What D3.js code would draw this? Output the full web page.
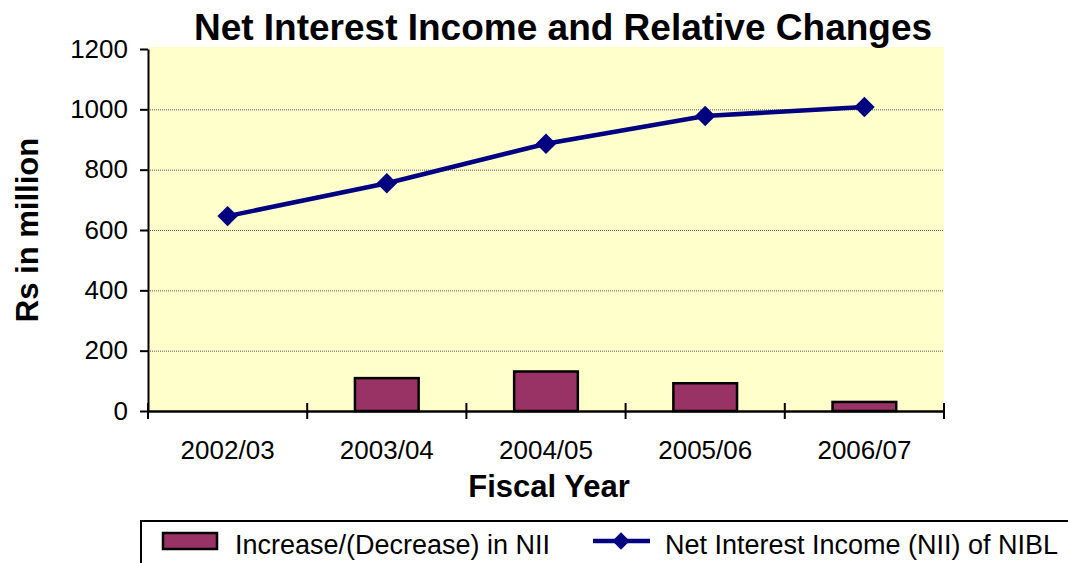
<!DOCTYPE html>
<html>
<head>
<meta charset="utf-8">
<script src="https://cdn.jsdelivr.net/npm/d3@7"></script>
<style>
  html, body { margin: 0; padding: 0; background: #fff; }
  svg { display: block; font-family: "Liberation Sans", Arial, sans-serif; }
</style>
</head>
<body>
<svg id="chart" width="1068" height="563"></svg>
<script>
const categories = ["2002/03", "2003/04", "2004/05", "2005/06", "2006/07"];
const niiValues = [646, 755, 886, 978, 1008];
const changeValues = [null, 109, 131, 92, 30];
const yTicks = [0, 200, 400, 600, 800, 1000, 1200];
const titleText = "Net Interest Income and Relative Changes";
const xTitle = "Fiscal Year";
const yTitle = "Rs in million";
const legendLabels = ["Increase/(Decrease) in NII", "Net Interest Income (NII) of NIBL"];

const svg = d3.select("#chart");
const pLeft = 148, pRight = 944, pTop = 49, pBottom = 411;

const x = d3.scaleBand().domain(categories).range([pLeft, pRight]).paddingInner(0).paddingOuter(0);
const y = d3.scaleLinear().domain([0, 1200]).range([pBottom, pTop]);

// plot background
svg.append("rect").attr("x", pLeft).attr("y", pTop - 2).attr("width", pRight - pLeft).attr("height", pBottom - pTop + 2)
  .attr("fill", "#FFFFCC");

// gridlines
svg.append("g").selectAll("line").data(yTicks.filter(d => d > 0 && d < 1200)).join("line")
  .attr("x1", pLeft).attr("x2", pRight)
  .attr("y1", d => y(d) + 0.5).attr("y2", d => y(d) + 0.5)
  .attr("stroke", "#555").attr("stroke-width", 1).attr("stroke-dasharray", "1,1");

// bars
const bw = x.bandwidth() * 0.4;
svg.append("g").selectAll("rect").data(categories.map((c, i) => ({c, v: changeValues[i]})).filter(d => d.v != null))
  .join("rect")
  .attr("x", d => x(d.c) + (x.bandwidth() - bw) / 2)
  .attr("y", d => y(d.v))
  .attr("width", bw)
  .attr("height", d => pBottom - y(d.v))
  .attr("fill", "#993366").attr("stroke", "#000").attr("stroke-width", 2.5);

// y axis
const yAxis = d3.axisLeft(y).tickValues(yTicks).tickFormat(d3.format("d")).tickSize(8).tickSizeOuter(0).tickPadding(12);
const gy = svg.append("g").attr("transform", `translate(${pLeft},0)`).call(yAxis);
gy.attr("font-size", null).attr("font-family", null);
gy.select(".domain").attr("stroke", "#000").attr("stroke-width", 2);
gy.selectAll(".tick line").attr("stroke", "#000").attr("stroke-width", 2);
gy.selectAll("text").style("font-size", "26px").attr("fill", "#000");

// x axis
const xAxis = d3.axisBottom(x).tickSize(0).tickPadding(30);
const gx = svg.append("g").attr("transform", `translate(0,${pBottom})`).call(xAxis);
gx.attr("font-size", null).attr("font-family", null);
gx.select(".domain").attr("stroke", "#000").attr("stroke-width", 2.5);
gx.selectAll("text").style("font-size", "26px").attr("fill", "#000");
// category boundary ticks
const bounds = categories.map(c => x(c)).concat([x(categories[categories.length - 1]) + x.bandwidth()]);
gx.append("g").selectAll("line").data(bounds).join("line")
  .attr("x1", d => d).attr("x2", d => d).attr("y1", -8).attr("y2", 8)
  .attr("stroke", "#000").attr("stroke-width", 2);

// line
const pts = categories.map((c, i) => [x(c) + x.bandwidth() / 2, y(niiValues[i])]);
svg.append("path").datum(pts).attr("d", d3.line())
  .attr("fill", "none").attr("stroke", "#000080").attr("stroke-width", 4.5);
const diamond = d3.symbol().type(d3.symbolSquare).size(210);
svg.append("g").selectAll("path").data(pts).join("path")
  .attr("d", diamond())
  .attr("transform", d => `translate(${d[0]},${d[1]}) rotate(45)`)
  .attr("fill", "#000080");

// title
svg.append("text").attr("x", 563).attr("y", 40).attr("text-anchor", "middle")
  .style("font-size", "37px").attr("font-weight", "bold")
  .text(titleText);

// axis titles
svg.append("text").attr("x", 549).attr("y", 497).attr("text-anchor", "middle")
  .style("font-size", "31px").attr("font-weight", "bold").text(xTitle);
svg.append("text").attr("transform", `translate(38,230) rotate(-90)`).attr("text-anchor", "middle")
  .style("font-size", "31px").attr("font-weight", "bold").text(yTitle);

// legend
const lg = svg.append("g");
lg.append("rect").attr("x", 141).attr("y", 521).attr("width", 1000).attr("height", 60)
  .attr("fill", "#fff").attr("stroke", "#000").attr("stroke-width", 2);
lg.append("rect").attr("x", 163).attr("y", 533).attr("width", 54).attr("height", 16)
  .attr("fill", "#993366").attr("stroke", "#000").attr("stroke-width", 2.5);
lg.append("text").attr("x", 235).attr("y", 554).style("font-size", "27px").text(legendLabels[0]);
lg.append("line").attr("x1", 593).attr("x2", 650).attr("y1", 541).attr("y2", 541)
  .attr("stroke", "#000080").attr("stroke-width", 4.5);
lg.append("path").attr("d", d3.symbol().type(d3.symbolSquare).size(150)())
  .attr("transform", "translate(621,541) rotate(45)").attr("fill", "#000080");
lg.append("text").attr("x", 665).attr("y", 554).style("font-size", "27px").text(legendLabels[1]);
</script>
</body>
</html>
